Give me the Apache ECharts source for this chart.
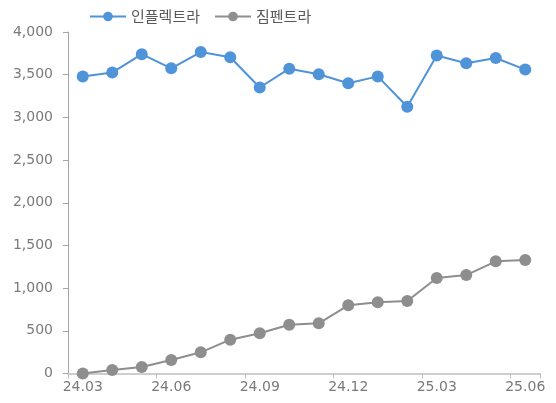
<!DOCTYPE html>
<html><head><meta charset="utf-8">
<script src="https://cdn.jsdelivr.net/npm/echarts@6/dist/echarts.min.js"></script>
<style>html,body{margin:0;padding:0;background:#fff}#c{width:556px;height:403px}</style>
</head><body><div id="c"></div>
<script>
const categories = ['24.03','24.04','24.05','24.06','24.07','24.08','24.09','24.10','24.11','24.12','25.01','25.02','25.03','25.04','25.05','25.06'];
const inflectra = [3480,3525,3740,3575,3765,3705,3350,3570,3505,3400,3480,3125,3725,3635,3695,3560];
const zymfentra = [0,40,75,158,248,396,471,571,588,799,834,849,1118,1153,1314,1329];
const yTicks = {min:0, max:4000, interval:500};

const chart = echarts.init(document.getElementById('c'));
const font = '"Noto Sans CJK KR", "DejaVu Sans", sans-serif';
const numFont = '"DejaVu Sans", sans-serif';
chart.setOption({
  animation:false,
  textStyle:{fontFamily:font},
  legend:{
    top:4, left:84,
    itemWidth:36, itemHeight:12, itemGap:14,
    textStyle:{fontSize:15,color:'#595959',fontFamily:font},
    data:['인플렉트라','짐펜트라']
  },
  grid:{left:68, right:16, top:32, bottom:29.5, containLabel:false},
  xAxis:{
    type:'category', data:categories, boundaryGap:true,
    axisLine:{lineStyle:{color:'#bfbfbf',width:1.5}},
    axisTick:{show:true, interval:2, length:5, lineStyle:{color:'#bfbfbf'}},
    axisLabel:{interval:2, color:'#7a7a7a', fontSize:14, margin:7, fontFamily:numFont}
  },
  yAxis:{
    type:'value', min:yTicks.min, max:yTicks.max, interval:yTicks.interval,
    axisLine:{show:true, lineStyle:{color:'#a6a6a6'}},
    axisTick:{show:true, length:5, lineStyle:{color:'#a6a6a6'}},
    splitLine:{show:false},
    axisLabel:{color:'#7a7a7a', fontSize:14, margin:15, fontFamily:numFont,
      formatter:v=>v.toLocaleString('en-US')}
  },
  series:[
    {name:'인플렉트라', type:'line', data:inflectra, symbol:'circle', symbolSize:12,
     lineStyle:{color:'#4f93d8', width:2}, itemStyle:{color:'#4f93d8'}},
    {name:'짐펜트라', type:'line', data:zymfentra, symbol:'circle', symbolSize:12,
     lineStyle:{color:'#8e8e8e', width:2}, itemStyle:{color:'#8e8e8e'}}
  ]
});
</script></body></html>
